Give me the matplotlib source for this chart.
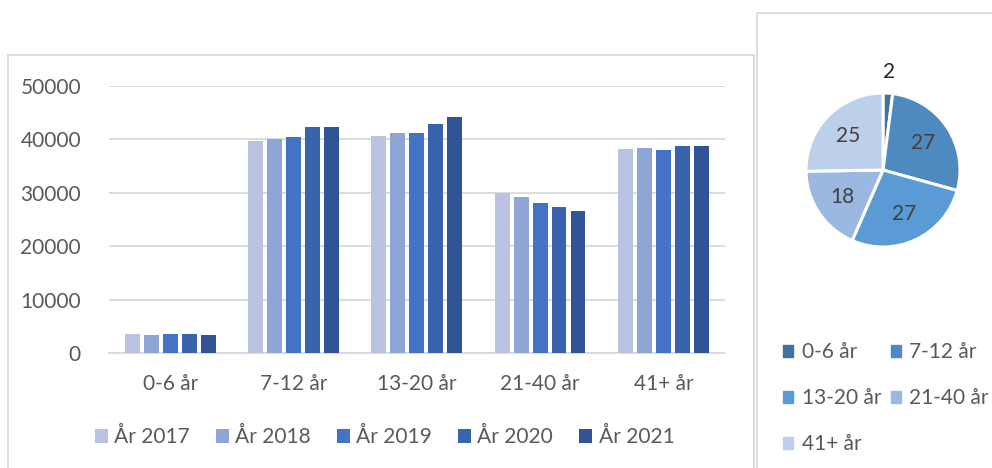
import matplotlib
matplotlib.use("Agg")
import matplotlib.pyplot as plt
from matplotlib.patches import Rectangle
import numpy as np

plt.rcParams['font.family'] = ['Lato', 'DejaVu Sans']

# Bar chart data
categories = ["0-6 år", "7-12 år", "13-20 år", "21-40 år", "41+ år"]
years = ["År 2017", "År 2018", "År 2019", "År 2020", "År 2021"]
v2017 = [3500, 39700, 40600, 29900, 38250]
v2018 = [3450, 40070, 41150, 29250, 38300]
v2019 = [3620, 40390, 41120, 28120, 37930]
v2020 = [3560, 42260, 42870, 27310, 38680]
v2021 = [3370, 42260, 44250, 26560, 38810]
series = [v2017, v2018, v2019, v2020, v2021]
yticks = [0, 10000, 20000, 30000, 40000, 50000]

# Pie chart data (share in percent)
pie_labels = ["0-6 år", "7-12 år", "13-20 år", "21-40 år", "41+ år"]
pie_values = [2, 27, 27, 18, 25]

bar_colors = ["#B9C3E1", "#8FA5D5", "#4472C4", "#3A63AD", "#305496"]
pie_colors = ["#41719C", "#4E89BF", "#5B9BD5", "#9BB8E0", "#BDD0EA"]
text_grey = "#595959"
grid_grey = "#D9D9D9"
FS = 15

W, H = 992, 468
fig = plt.figure(figsize=(W / 100, H / 100), dpi=100)

# Frames around the two chart areas
fig.add_artist(Rectangle((8 / W, -0.1), (754 - 8) / W, 1.1 - 55.5 / H,
                         transform=fig.transFigure, fill=False,
                         edgecolor=grid_grey, lw=1.3))
fig.add_artist(Rectangle((757 / W, -0.1), 1.0, 1.1 - 13 / H,
                         transform=fig.transFigure, fill=False,
                         edgecolor=grid_grey, lw=1.3))

# ---- Clustered bar chart ----
ax = fig.add_axes([108.7 / W, 1 - 353 / H, (725 - 108.7) / W, (353 - 86) / H])
x = np.arange(len(categories))
step = 0.154
width = 0.12
for i, (vals, name, col) in enumerate(zip(series, years, bar_colors)):
    ax.bar(x + (i - 2) * step, vals, width=width, color=col, label=name,
           zorder=3)

ax.set_xlim(-0.5, len(categories) - 0.5)
ax.set_ylim(0, 50000)
ax.set_yticks(yticks)
ax.set_yticklabels([str(t) for t in yticks])
ax.set_xticks(x)
ax.set_xticklabels(categories)
ax.yaxis.grid(True, color=grid_grey, lw=1.3, zorder=0)
for s in ["top", "right", "left"]:
    ax.spines[s].set_visible(False)
ax.spines["bottom"].set_color(grid_grey)
ax.spines["bottom"].set_linewidth(1.3)
ax.tick_params(axis="both", length=0, labelsize=FS, labelcolor=text_grey)
ax.tick_params(axis="y", pad=20)
ax.tick_params(axis="x", pad=15)

ax.legend(loc="center", bbox_to_anchor=(0.4475, -0.315), ncol=5,
          frameon=False, fontsize=FS, labelcolor=text_grey,
          handlelength=0.63, handleheight=0.63, handletextpad=0.3,
          columnspacing=1.25)

# ---- Pie chart ----
cx, cy, r = 883, 170, 77
pax = fig.add_axes([(cx - r) / W, 1 - (cy + r) / H, 2 * r / W, 2 * r / H])
wedges, _, autotexts = pax.pie(
    pie_values, colors=pie_colors, startangle=90, counterclock=False,
    autopct=lambda p: f"{p * sum(pie_values) / 100:.0f}", pctdistance=0.63,
    wedgeprops=dict(edgecolor="white", linewidth=2.2),
    textprops=dict(fontsize=FS, color="#404040"))
pax.set_xlim(-1, 1)
pax.set_ylim(-1, 1)
pax.set_aspect("auto")

# Small slice gets its label outside the pie
w0 = wedges[0]
mid = np.deg2rad((w0.theta1 + w0.theta2) / 2)
autotexts[0].set_position((1.28 * np.cos(mid), 1.28 * np.sin(mid)))
autotexts[0].set_color("#262626")

# Legend filled row by row (matplotlib fills column by column)
order = [0, 2, 4, 1, 3]
leg_handles = [Rectangle((0, 0), 1, 1, color=pie_colors[k]) for k in order]
fig.legend(leg_handles, [pie_labels[k] for k in order], loc="upper left",
           bbox_to_anchor=(783 / W, 1 - 342 / H), ncol=2, frameon=False,
           fontsize=FS, labelcolor=text_grey, handlelength=0.5,
           handleheight=0.5, handletextpad=0.4, columnspacing=0.45,
           labelspacing=1.25, borderpad=0, borderaxespad=0)

fig.savefig("out.png", dpi=100, facecolor="white")
